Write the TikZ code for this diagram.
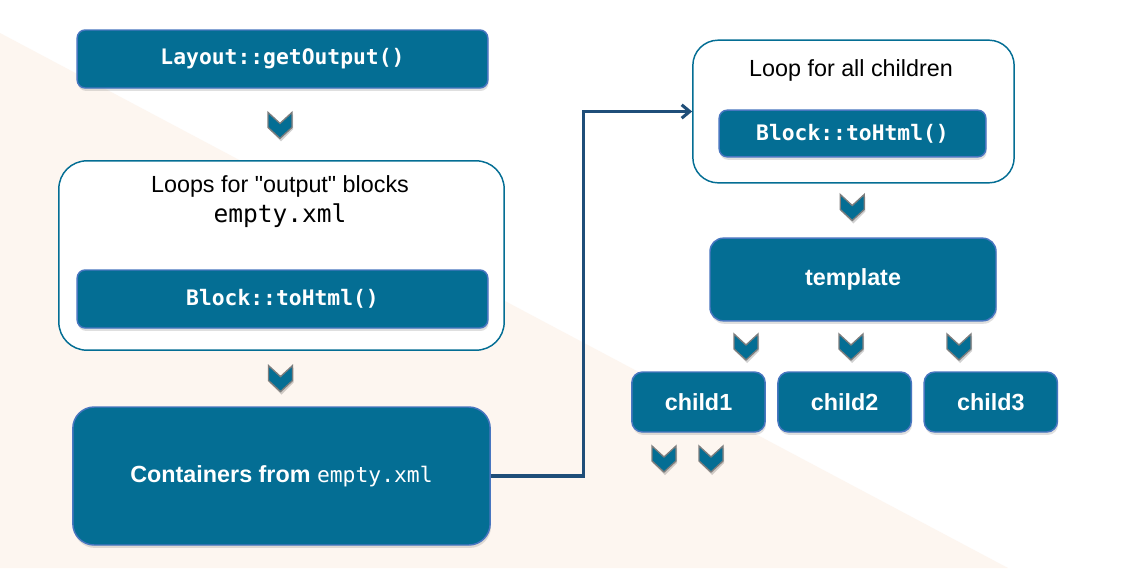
\documentclass[tikz,border=0pt]{standalone}
\usepackage{fontspec}
\setmainfont{Liberation Sans}
\setmonofont{DejaVu Sans Mono}
\usetikzlibrary{positioning, calc, shadows, arrows.meta}
\definecolor{lyTeal}{RGB}{4,110,148}
\definecolor{lyEdge}{RGB}{72,118,192}
\definecolor{lyNavy}{RGB}{31,78,121}
\definecolor{lyPeach}{RGB}{253,246,240}
\definecolor{lyGrey}{RGB}{125,125,125}

\begin{document}
\begin{tikzpicture}[x=0.75pt, y=-0.75pt,
  blk/.style={draw=lyEdge, line width=1.1pt, fill=lyTeal, rounded corners=6pt, text=white, align=center,
    drop shadow={shadow xshift=0.6pt, shadow yshift=-2.2pt, opacity=0.25}},
  code/.style={blk, font=\fontsize{16}{19}\selectfont\ttfamily\bfseries},
  bigbox/.style={blk, font=\fontsize{17.5}{21}\selectfont\bfseries},
  loop/.style={draw=lyTeal, line width=1.1pt, fill=white},
  plain/.style={font=\fontsize{17.5}{21}\selectfont, inner sep=0pt},
  chev/.pic={
    \fill[black, opacity=0.18] (-11,-11) -- (1,0) -- (13,-11) -- (13,4) -- (1,16) -- (-11,4) -- cycle;
    \filldraw[fill=lyTeal, draw=lyGrey, line width=1pt] (-12,-13) -- (0,-2) -- (12,-13) -- (12,2) -- (0,13) -- (-12,2) -- cycle;
  },
  node distance=8.5pt
]
  % canvas and background wedge
  \useasboundingbox (0,0) rectangle (1124,568);
  \fill[white] (0,0) rectangle (1124,568);
  \fill[lyPeach] (0,33) -- (1008,568) -- (0,568) -- cycle;

  % left column
  \node[code, minimum width=308pt, minimum height=43.5pt] (getout) at (282.5,59) {Layout::getOutput()};
  \node[loop, rounded corners=21pt, minimum width=334pt, minimum height=142pt] (loopL) at (281.5,255.5) {};
  \node[plain] (loopLT) at (280,186) {Loops for \textquotedbl output\textquotedbl\ blocks};
  \node[plain, font=\fontsize{18.4}{22}\selectfont\ttfamily] (loopLX) at (280,216) {empty.xml};
  \node[code, minimum width=308pt, minimum height=43.5pt] (blockL) at (282.5,299) {Block::toHtml()};
  \node[bigbox, rounded corners=16pt, minimum width=313pt, minimum height=103.5pt] (cont) at (281.5,476)
    {Containers from {\mdseries\ttfamily\fontsize{16}{19}\selectfont empty.xml}};

  % right column
  \node[loop, rounded corners=19pt, minimum width=241pt, minimum height=107pt] (loopR) at (853.5,111.5) {};
  \node[plain] (loopRT) at (851,70) {Loop for all children};
  \node[code, minimum width=200pt, minimum height=35pt] (blockR) at (852.5,133.5) {Block::toHtml()};
  \node[bigbox, rounded corners=10pt, minimum width=214.5pt, minimum height=62pt] (tmpl) at (853,279.5) {template};
  \node[bigbox, rounded corners=8pt, minimum width=100pt, minimum height=45pt] (child1) at (698.5,402) {child1};
  \node[bigbox, rounded corners=8pt, minimum width=100pt, minimum height=45pt, right=of child1] (child2) {child2};
  \node[bigbox, rounded corners=8pt, minimum width=100pt, minimum height=45pt, right=of child2] (child3) {child3};

  % chevrons
  \pic at ($(getout.south)!0.5!(loopL.north)+(-2,1)$) {chev};
  \pic at ($(loopL.south)!0.5!(cont.north)+(-1,0)$) {chev};
  \pic at ($(loopR.south)!0.5!(tmpl.north)+(-1,-3)$) {chev};
  \foreach \cx in {746,851,959} \pic at (\cx,347) {chev};
  \foreach \cx in {664,711} \pic at (\cx,459) {chev};

  % connector
  \draw[lyNavy, line width=2.3pt, -{Straight Barb[length=6pt, width=10pt]}] (cont.east) -- ++(93,0) |- (loopR.west);
\end{tikzpicture}
\end{document}
